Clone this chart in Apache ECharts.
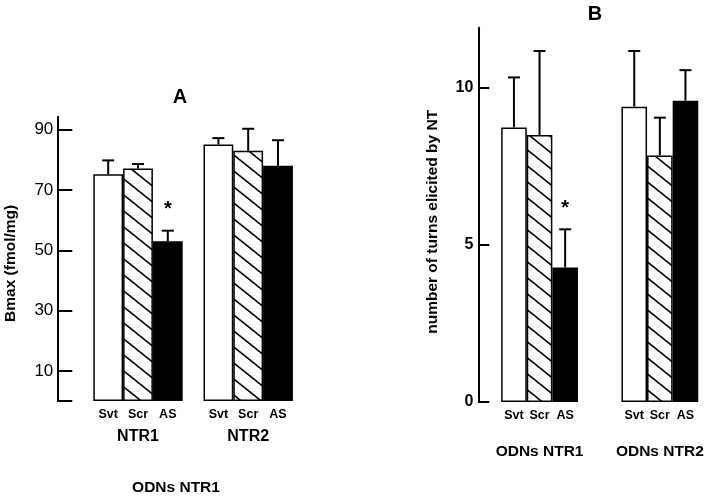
<!DOCTYPE html>
<html>
<head>
<meta charset="utf-8">
<script src="https://cdn.jsdelivr.net/npm/echarts@6/dist/echarts.min.js"></script>
<style>
html,body{margin:0;padding:0;background:#fff;}
#c{width:720px;height:499px;}
</style>
</head>
<body>
<div id="c"></div>
<script>
// ---- data ----
const treatments = ['Svt', 'Scr', 'AS'];
// Panel A: Bmax (fmol/mg)
const groupsA = ['NTR1', 'NTR2'];
const bmaxSvt = [75.2, 85.1];
const bmaxScr = [77.1, 83.0];
const bmaxAS  = [53.0, 78.0];
const bmaxSvtErr = [4.6, 2.1];
const bmaxScrErr = [1.5, 7.3];
const bmaxASErr  = [3.5, 8.5];
const bmaxTicks  = [10, 30, 50, 70, 90];
// Panel B: number of turns elicited by NT
const groupsB = ['ODNs NTR1', 'ODNs NTR2'];
const turnsSvt = [8.73, 9.39];
const turnsScr = [8.49, 7.84];
const turnsAS  = [4.28, 9.58];
const turnsSvtErr = [1.59, 1.77];
const turnsScrErr = [2.67, 1.20];
const turnsASErr  = [1.21, 0.97];
const turnsTicks  = [0, 5, 10];
// significance markers: [panel, treatment index, group index]
const stars = [['A', 2, 0], ['B', 2, 0]];

// ---- styles ----
const FONT = '"Liberation Sans", Arial, Helvetica, sans-serif';
function hatch() {
  const w = 20, h = 16;
  const c = document.createElement('canvas');
  c.width = w; c.height = h;
  const g = c.getContext('2d');
  g.fillStyle = '#fff'; g.fillRect(0, 0, w, h);
  g.strokeStyle = '#000'; g.lineWidth = 1.6;
  g.beginPath();
  g.moveTo(-w, -h); g.lineTo(2 * w, 2 * h);
  g.moveTo(-w, 0); g.lineTo(w, 2 * h);
  g.moveTo(0, -h); g.lineTo(2 * w, h);
  g.stroke();
  return c;
}
const fills = ['#ffffff', { image: hatch(), repeat: 'repeat' }, '#000000'];

const panels = [
  { key: 'A', groups: groupsA, vals: [bmaxSvt, bmaxScr, bmaxAS], errs: [bmaxSvtErr, bmaxScrErr, bmaxASErr], barW: 29.8 },
  { key: 'B', groups: groupsB, vals: [turnsSvt, turnsScr, turnsAS], errs: [turnsSvtErr, turnsScrErr, turnsASErr], barW: 25.6 }
];

const series = [];
panels.forEach((p, pi) => {
  treatments.forEach((t, ti) => {
    series.push({
      type: 'bar', name: t, xAxisIndex: pi, yAxisIndex: pi,
      data: p.vals[ti], barWidth: p.barW, barGap: '0%',
      itemStyle: { color: fills[ti], borderColor: '#000', borderWidth: 1.5 },
      label: { show: true, position: 'bottom', distance: 7.5, formatter: t,
               fontFamily: FONT, fontWeight: 'bold', fontSize: 12.5, color: '#000' },
      silent: true, z: 2
    });
  });
  const errData = [];
  treatments.forEach((t, ti) => {
    p.groups.forEach((g, gi) => {
      const star = stars.some(s => s[0] === p.key && s[1] === ti && s[2] === gi) ? 1 : 0;
      errData.push([gi, p.vals[ti][gi], p.errs[ti][gi], ti, star]);
    });
  });
  series.push({
    type: 'custom', xAxisIndex: pi, yAxisIndex: pi, data: errData, z: 5, silent: true,
    renderItem: function (params, api) {
      const base = api.coord([api.value(0), api.value(1)]);
      const top = api.coord([api.value(0), api.value(1) + api.value(2)]);
      const x = base[0] + (api.value(3) - 1) * p.barW;
      const cap = 6;
      const children = [
        { type: 'line', shape: { x1: x, y1: base[1], x2: x, y2: top[1] }, style: { stroke: '#000', lineWidth: 2 } },
        { type: 'line', shape: { x1: x - cap, y1: top[1], x2: x + cap, y2: top[1] }, style: { stroke: '#000', lineWidth: 2 } }
      ];
      if (api.value(4)) {
        children.push({ type: 'text', x: x, y: top[1] - 21,
          style: { text: '*', fontSize: 20, fontWeight: 'bold', fontFamily: FONT, fill: '#000',
                   align: 'center', verticalAlign: 'middle' } });
      }
      return { type: 'group', children: children };
    }
  });
});

const chart = echarts.init(document.getElementById('c'), null, { renderer: 'canvas' });
chart.setOption({
  animation: false,
  backgroundColor: '#fff',
  grid: [
    { left: 82.9, top: 116.7, width: 220.4, height: 284.3 },
    { left: 479.4, top: 27.7, width: 256.4, height: 374.3 }
  ],
  xAxis: [
    { type: 'category', gridIndex: 0, data: groupsA,
      axisLine: { show: false }, axisTick: { show: false },
      axisLabel: { interval: 0, margin: 28, fontFamily: FONT, fontWeight: 'bold', fontSize: 16, color: '#000' } },
    { type: 'category', gridIndex: 1, data: groupsB,
      axisLine: { show: false }, axisTick: { show: false },
      axisLabel: { interval: 0, margin: 42, fontFamily: FONT, fontWeight: 'bold', fontSize: 15.5, color: '#000' } }
  ],
  yAxis: [
    { type: 'value', gridIndex: 0, min: 0, max: 94.3, offset: 25.6,
      axisLine: { show: true, lineStyle: { color: '#000', width: 2 } },
      axisTick: { show: true, inside: true, length: 15, lineStyle: { color: '#000', width: 2 },
                  customValues: [0].concat(bmaxTicks) },
      axisLabel: { customValues: bmaxTicks, margin: 4, fontFamily: FONT, fontSize: 17, color: '#000' },
      splitLine: { show: false },
      name: 'Bmax (fmol/mg)', nameLocation: 'middle', nameGap: 39, nameRotate: 90,
      nameTextStyle: { fontFamily: FONT, fontWeight: 'bold', fontSize: 15.5, color: '#000', padding: [0, 0, 0, -9] } },
    { type: 'value', gridIndex: 1, min: 0, max: 11.9, interval: 5, offset: 1.1,
      axisLine: { show: true, lineStyle: { color: '#000', width: 2 } },
      axisTick: { show: true, inside: true, length: 11, lineStyle: { color: '#000', width: 2 },
                  customValues: turnsTicks },
      axisLabel: { customValues: turnsTicks, margin: 5, fontFamily: FONT, fontWeight: 'bold', fontSize: 16, color: '#000' },
      splitLine: { show: false },
      name: 'number of turns elicited by NT', nameLocation: 'middle', nameGap: 38, nameRotate: 90,
      nameTextStyle: { fontFamily: FONT, fontWeight: 'bold', fontSize: 15.5, color: '#000', padding: [0, 0, 0, -14] } }
  ],
  graphic: [
    { type: 'text', x: 180, y: 97, style: { text: 'A', fontFamily: FONT, fontWeight: 'bold', fontSize: 20, fill: '#000', align: 'center', verticalAlign: 'middle' } },
    { type: 'text', x: 595, y: 14, style: { text: 'B', fontFamily: FONT, fontWeight: 'bold', fontSize: 20, fill: '#000', align: 'center', verticalAlign: 'middle' } },
    { type: 'text', x: 176, y: 488, style: { text: 'ODNs NTR1', fontFamily: FONT, fontWeight: 'bold', fontSize: 15.5, fill: '#000', align: 'center', verticalAlign: 'middle' } }
  ],
  series: series
});
</script>
</body>
</html>
